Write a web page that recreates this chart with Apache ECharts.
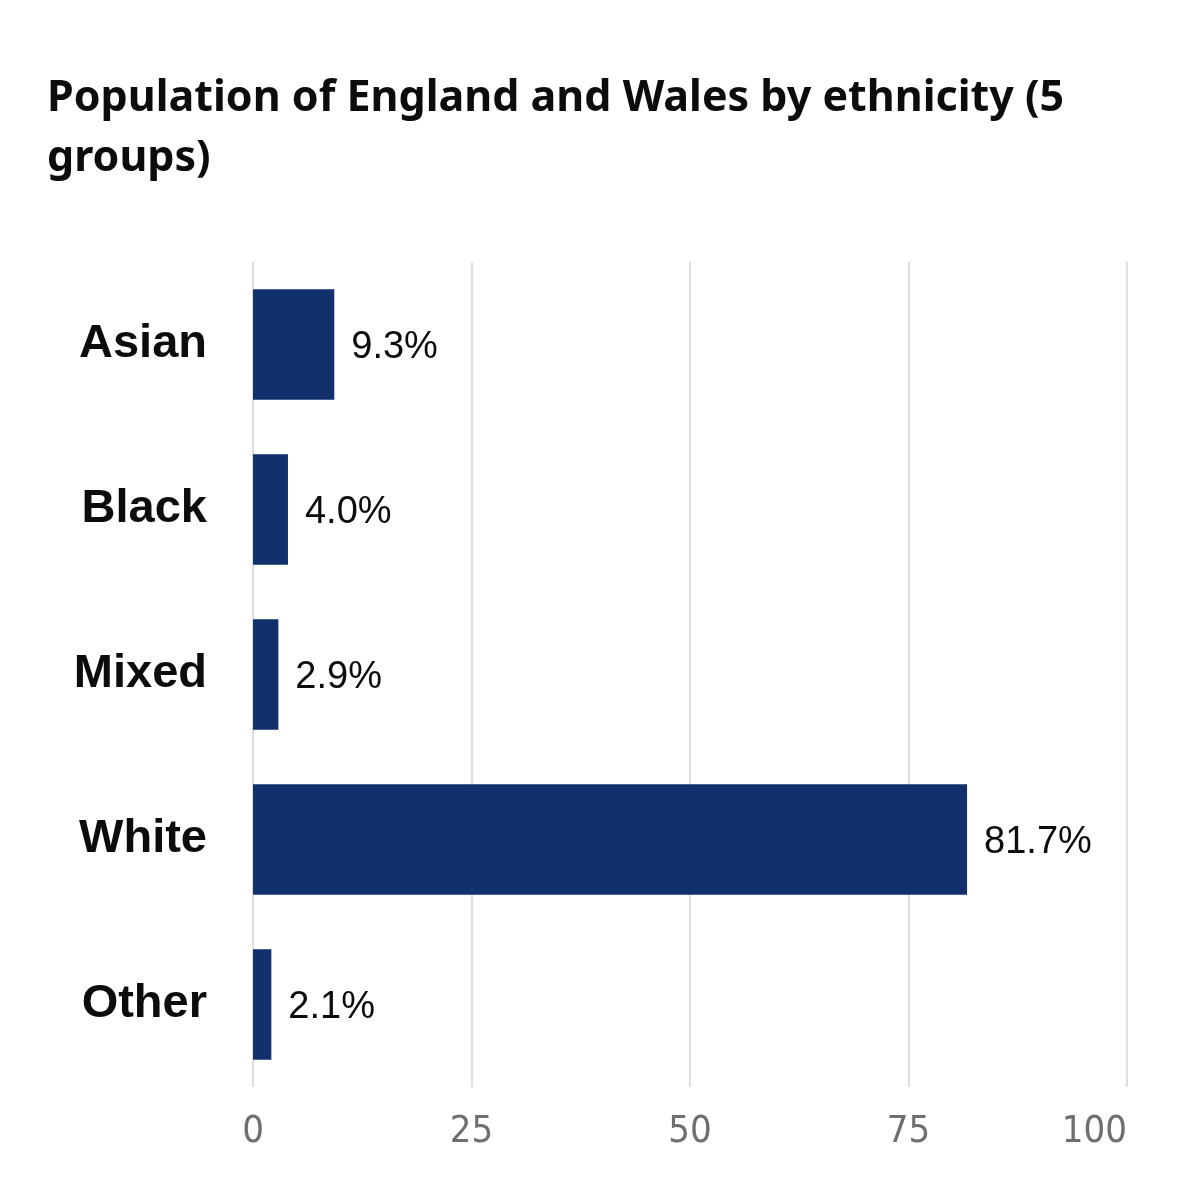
<!DOCTYPE html>
<html lang="en">
<head>
    <meta charset="UTF-8">
    <title>Population of England and Wales by ethnicity</title>
    <style type="text/css">
        html, body { margin: 0; padding: 0; background: #fff; }
        #ethnicityChart { width: 1200px; height: 1192px; }
    </style>
</head>
<body>
<div id="ethnicityChart"></div>
<script src="https://cdn.jsdelivr.net/npm/echarts@6/dist/echarts.min.js"></script>
<script type="text/javascript">
    // data
    var groups = ['Asian', 'Black', 'Mixed', 'White', 'Other'];
    var shares = [9.3, 4.0, 2.9, 81.7, 2.1];
    var xTicks = [0, 25, 50, 75, 100];

    var chart = echarts.init(document.getElementById('ethnicityChart'));

    var option = {
        animation: false,
        backgroundColor: '#fff',
        title: {
            text: 'Population of England and Wales by ethnicity (5\ngroups)',
            left: 42,
            top: 64,
            textStyle: {
                fontFamily: '"Noto Sans", sans-serif',
                fontWeight: 'bold',
                fontSize: 43,
                lineHeight: 60,
                color: '#0b0c0c'
            }
        },
        grid: {
            left: 253,
            right: 73,
            top: 262,
            bottom: 105,
            containLabel: false
        },
        xAxis: {
            type: 'value',
            min: xTicks[0],
            max: xTicks[xTicks.length - 1],
            interval: 25,
            axisLine: { show: false },
            axisTick: { show: false },
            axisLabel: {
                margin: 26,
                fontSize: 38,
                alignMaxLabel: 'right',
                fontFamily: '"Liberation Sans Narrow", "Arial Narrow", "DejaVu Sans Condensed", sans-serif',
                color: '#6f6f6f'
            },
            splitLine: {
                lineStyle: { color: '#dedede', width: 2 }
            }
        },
        yAxis: {
            type: 'category',
            inverse: true,
            data: groups,
            axisLine: { show: false },
            axisTick: { show: false },
            axisLabel: {
                margin: 46,
                fontSize: 47,
                fontWeight: 'bold',
                fontFamily: '"Liberation Sans", Arial, sans-serif',
                color: '#0b0c0c'
            }
        },
        series: [{
            type: 'bar',
            data: shares,
            barCategoryGap: '33%',
            itemStyle: { color: '#12306e' },
            label: {
                show: true,
                position: 'right',
                distance: 17,
                offset: [0, 3],
                fontSize: 38,
                fontFamily: '"Liberation Sans", Arial, sans-serif',
                color: '#0b0c0c',
                formatter: function (p) { return p.value.toFixed(1) + '%'; }
            }
        }]
    };
    chart.setOption(option);
</script>
</body>
</html>
